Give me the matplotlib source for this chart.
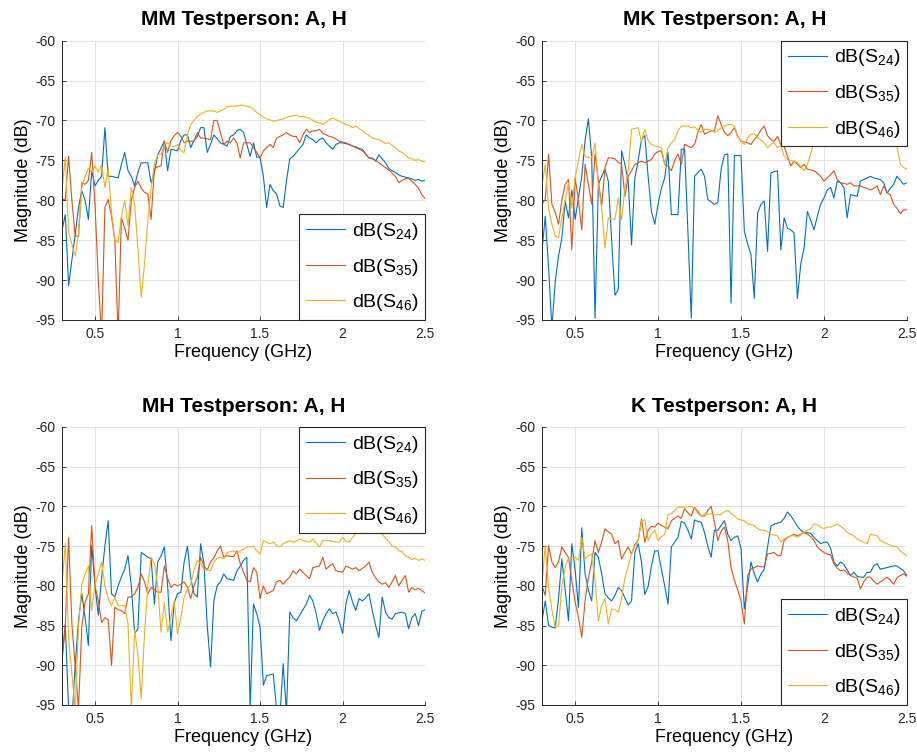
import numpy as np
import matplotlib

matplotlib.use("Agg")
import matplotlib.pyplot as plt

plt.rcParams["font.family"] = ["Liberation Sans", "DejaVu Sans"]
plt.rcParams["mathtext.default"] = "regular"
plt.rcParams["axes.unicode_minus"] = False

COLORS = ["#0072BD", "#D95319", "#EDB120"]
LABELS = [r"dB(S$_{24}$)", r"dB(S$_{35}$)", r"dB(S$_{46}$)"]

# 0.3 .. 2.5 GHz in 0.02 GHz steps (111 points)
freq = np.round(0.3 + 0.02 * np.arange(111), 2)

mm_s24 = [
    -83.8, -81.8, -90.7, -87.5, -84.3, -80.9, -78.8, -80.0, -82.4, -76.3,
    -78.2, -77.5, -77.0, -70.9, -77.0, -77.0, -77.1, -77.2, -75.5, -74.0,
    -76.3, -77.0, -78.2, -76.5, -75.3, -75.3, -75.3, -77.8, -76.5, -74.3,
    -73.5, -72.6, -76.3, -73.6, -73.7, -73.8, -72.5, -71.8, -71.8, -73.4,
    -72.5, -72.0, -70.9, -70.9, -74.0, -73.0, -71.8, -72.3, -72.8, -73.0,
    -73.2, -72.0, -71.8, -71.3, -71.1, -71.5, -73.0, -74.5, -72.8, -74.6,
    -74.6, -77.0, -80.9, -78.0, -78.8, -79.2, -80.7, -80.9, -77.6, -74.8,
    -74.5, -74.0, -73.5, -73.0, -71.8, -72.2, -72.4, -72.8, -72.4, -72.2,
    -72.8, -73.2, -73.6, -73.0, -72.8, -72.8, -72.9, -73.0, -73.2, -73.3,
    -73.5, -73.6, -74.2, -74.7, -74.7, -75.1, -74.3, -74.8, -75.3, -76.0,
    -76.3, -76.5, -76.8, -77.0, -77.1, -77.2, -77.3, -77.5, -77.4, -77.6,
    -77.5,
]
mm_s35 = [
    -79.9, -79.9, -74.5, -80.0, -84.5, -84.5, -77.8, -78.0, -77.5, -74.0,
    -80.5, -90.0, -97.0, -80.9, -79.9, -82.0, -85.0, -97.0, -82.2, -83.5,
    -85.0, -80.0, -78.4, -77.6, -78.5, -79.0, -79.2, -82.4, -76.0, -75.8,
    -75.7, -72.6, -74.0, -72.5, -71.9, -71.5, -72.0, -72.8, -72.6, -72.6,
    -72.6, -71.5, -72.2, -72.2, -72.3, -72.4, -70.0, -70.0, -71.5, -73.0,
    -72.6, -72.8, -72.2, -72.8, -74.7, -72.8, -72.8, -72.8, -73.4, -74.0,
    -74.7, -73.8, -73.4, -73.0, -73.4, -72.2, -72.0, -71.8, -71.5, -71.8,
    -72.0, -72.0, -72.8, -71.8, -71.1, -71.5, -71.3, -71.3, -71.1, -71.6,
    -71.8, -72.0, -72.1, -72.3, -72.6, -72.7, -72.8, -73.0, -73.2, -73.4,
    -73.6, -73.8, -74.2, -74.7, -74.8, -75.0, -75.3, -75.6, -75.9, -76.2,
    -76.6, -77.0, -77.8, -77.5, -77.3, -77.3, -77.6, -78.0, -78.5, -79.3,
    -79.8,
]
mm_s46 = [
    -78.8, -74.6, -84.0, -85.5, -87.0, -84.0, -78.4, -77.0, -76.0, -76.5,
    -75.7, -76.5, -75.5, -78.4, -76.0, -81.5, -84.9, -85.3, -82.0, -80.0,
    -83.2, -78.4, -80.5, -86.0, -92.2, -88.0, -82.5, -78.4, -75.5, -74.3,
    -74.3, -73.0, -72.8, -73.2, -73.3, -73.0, -73.8, -74.0, -71.8, -70.5,
    -70.0, -69.5, -69.2, -69.0, -68.8, -68.8, -68.8, -69.0, -68.8, -68.6,
    -68.3, -68.2, -68.2, -68.2, -68.1, -68.1, -68.2, -68.3, -68.6, -69.0,
    -69.25, -69.6, -69.8, -69.9, -70.1, -70.0, -69.9, -69.8, -69.6, -69.5,
    -69.4, -69.3, -69.5, -69.5, -69.6, -69.7, -70.0, -70.2, -70.3, -70.5,
    -70.2, -69.9, -69.7, -69.9, -70.1, -70.3, -70.5, -70.6, -70.9, -70.7,
    -71.0, -71.3, -71.6, -71.9, -72.2, -72.3, -72.4, -72.6, -72.9, -72.8,
    -73.1, -73.4, -73.8, -74.0, -74.3, -74.7, -74.8, -75.0, -74.9, -75.1,
    -75.2,
]

mk_s24 = [
    -86.4, -82.0, -88.5, -96.0, -90.2, -87.0, -84.7, -80.1, -82.2, -78.7,
    -82.4, -79.7, -77.0, -72.5, -69.8, -74.7, -94.8, -78.0, -77.0, -76.1,
    -77.6, -85.0, -91.9, -91.2, -73.8, -75.5, -77.6, -85.6, -77.2, -75.0,
    -72.4, -71.9, -77.0, -81.4, -83.0, -80.5, -78.5, -77.2, -74.0, -81.8,
    -81.8, -81.8, -73.6, -73.6, -84.0, -94.8, -77.0, -76.5, -76.1, -77.0,
    -79.9, -80.2, -80.5, -80.3, -76.1, -74.3, -74.2, -92.9, -74.4, -74.4,
    -74.4, -83.9, -85.5, -86.8, -92.3, -81.6, -80.5, -80.1, -86.4, -76.6,
    -76.4, -76.3, -86.2, -82.2, -83.5, -83.7, -84.1, -92.3, -88.0, -86.0,
    -81.4, -82.5, -83.7, -82.0, -80.5, -79.7, -78.7, -78.4, -79.7, -77.6,
    -77.8, -78.4, -82.2, -79.3, -79.4, -79.5, -77.6, -77.4, -77.2, -77.0,
    -77.2, -77.3, -77.4, -77.8, -79.1, -78.5, -78.0, -77.0, -77.5, -78.0,
    -77.8,
]
mk_s35 = [
    -80.5, -79.9, -74.2, -80.5, -81.5, -83.0, -80.0, -78.0, -77.4, -86.2,
    -77.2, -80.0, -83.7, -75.5, -78.0, -80.5, -74.2, -77.5, -80.7, -75.9,
    -74.7, -74.7, -74.8, -75.3, -75.4, -79.5, -77.0, -76.3, -75.5, -75.3,
    -75.1, -75.3, -75.1, -74.9, -74.2, -73.9, -73.8, -75.5, -75.7, -76.3,
    -75.0, -74.2, -75.5, -73.0, -73.2, -73.4, -73.0, -71.5, -70.5, -71.7,
    -71.5, -71.3, -71.3, -69.4, -70.5, -71.5, -71.9, -71.5, -70.9, -72.0,
    -72.6, -72.7, -72.8, -73.0, -72.4, -71.9, -71.2, -70.7, -71.9, -72.4,
    -72.6, -72.0, -73.0, -73.2, -74.5, -75.7, -75.1, -75.5, -75.9, -75.5,
    -76.1, -76.2, -76.3, -76.6, -77.0, -77.6, -77.2, -76.8, -76.3, -77.4,
    -77.8, -77.9, -78.0, -77.8, -78.2, -78.2, -78.2, -78.4, -78.5, -78.7,
    -78.5, -78.2, -79.3, -78.2, -79.0, -79.3, -80.5, -81.0, -81.7, -81.2,
    -81.2,
]
mk_s46 = [
    -78.2, -75.5, -81.0, -83.0, -84.5, -84.7, -82.2, -80.0, -77.8, -81.0,
    -77.2, -75.0, -73.0, -74.5, -74.6, -74.7, -72.8, -78.0, -81.0, -86.0,
    -82.2, -82.3, -82.4, -79.7, -82.4, -78.5, -76.3, -71.1, -71.0, -70.9,
    -72.6, -71.1, -72.5, -73.0, -73.2, -73.3, -73.4, -75.5, -73.4, -72.8,
    -72.4, -71.3, -70.7, -70.7, -70.7, -70.9, -70.8, -71.2, -71.5, -71.1,
    -71.1, -71.2, -71.5, -71.3, -70.9, -70.7, -70.5, -70.5, -70.7, -72.0,
    -72.6, -73.0, -72.2, -71.7, -71.7, -72.1, -72.5, -72.8, -73.4, -73.0,
    -72.8, -73.4, -73.2, -74.5, -74.9, -75.0, -75.1, -75.3, -75.8, -76.3,
    -75.5, -74.2, -72.6, -70.5, -69.5, -69.8, -70.2, -70.0, -70.4, -70.6,
    -70.3, -70.8, -71.0, -70.7, -71.2, -71.0, -71.4, -71.2, -71.5, -71.8,
    -71.6, -72.0, -72.2, -72.0, -72.5, -72.8, -72.9, -73.2, -75.5, -75.9,
    -76.1,
]

mh_s24 = [
    -89.0, -84.8, -95.5, -97.0, -90.0, -84.4, -81.0, -84.0, -87.5, -74.9,
    -80.0, -83.7, -78.9, -75.0, -71.8, -81.0, -81.4, -80.0, -78.9, -77.9,
    -76.2, -80.0, -86.0, -85.4, -75.8, -76.1, -76.4, -76.6, -82.3, -77.0,
    -76.2, -75.1, -80.0, -86.9, -82.1, -81.0, -80.8, -77.0, -75.0, -79.0,
    -81.0, -81.4, -74.7, -77.2, -85.0, -90.2, -81.9, -80.0, -79.5, -78.5,
    -79.1, -79.2, -79.3, -78.1, -77.5, -76.8, -76.4, -95.5, -82.3, -83.5,
    -85.2, -92.5, -91.3, -91.2, -91.1, -95.5, -96.5, -89.8, -96.0, -83.3,
    -84.0, -84.4, -83.7, -83.0, -82.3, -81.2, -81.9, -83.5, -85.6, -84.4,
    -83.5, -82.9, -83.5, -83.3, -84.5, -86.0, -82.3, -80.6, -82.0, -83.1,
    -81.6, -81.9, -81.5, -81.0, -83.1, -85.0, -86.5, -81.4, -83.3, -84.0,
    -84.2, -83.5, -83.4, -83.3, -83.5, -85.4, -84.0, -83.5, -85.0, -83.2,
    -83.0,
]
mh_s35 = [
    -89.6, -85.0, -73.9, -84.8, -90.0, -95.5, -85.2, -82.0, -81.0, -72.4,
    -80.0, -81.9, -84.6, -84.0, -84.3, -90.0, -82.7, -83.0, -83.1, -83.5,
    -81.4, -81.4, -81.0, -80.2, -78.5, -79.5, -81.0, -80.2, -80.5, -80.8,
    -80.8, -77.5, -79.0, -80.2, -79.8, -80.0, -79.8, -79.5, -80.2, -81.6,
    -80.0, -78.9, -76.4, -77.5, -78.0, -77.0, -76.5, -75.6, -75.0, -76.4,
    -76.2, -76.3, -76.3, -75.6, -77.2, -78.3, -79.3, -79.5, -77.7, -78.3,
    -81.6, -80.0, -81.0, -80.8, -80.6, -79.5, -79.3, -79.8, -79.3, -78.9,
    -78.1, -78.5, -77.9, -78.3, -78.7, -79.1, -77.7, -77.6, -77.5, -76.4,
    -77.9, -77.5, -77.2, -78.1, -78.2, -78.3, -77.5, -77.7, -77.9, -77.7,
    -78.1, -77.8, -77.5, -77.0, -78.3, -79.0, -79.5, -79.8, -79.6, -80.2,
    -79.5, -78.7, -80.0, -79.3, -78.7, -80.8, -80.2, -80.5, -80.3, -80.6,
    -80.9,
]
mh_s46 = [
    -79.8, -74.7, -86.5, -91.1, -95.5, -85.2, -79.8, -78.5, -77.5, -83.1,
    -79.8, -78.5, -77.0, -80.0, -81.6, -82.5, -81.4, -82.5, -82.5, -82.5,
    -84.8, -95.5, -85.6, -88.6, -94.2, -86.0, -80.0, -76.4, -77.2, -80.0,
    -85.8, -82.1, -85.8, -84.0, -81.9, -86.0, -84.0, -81.4, -80.4, -79.8,
    -78.0, -76.8, -77.2, -77.9, -78.0, -78.1, -77.0, -76.5, -76.4, -76.6,
    -75.8, -75.7, -75.6, -75.9, -75.6, -75.4, -75.1, -75.1, -75.0, -75.6,
    -76.0, -74.3, -74.5, -74.7, -74.5, -74.9, -75.1, -74.7, -74.5, -74.3,
    -74.5, -74.4, -74.1, -74.3, -74.4, -74.5, -74.1, -74.6, -75.1, -74.3,
    -74.3, -74.3, -74.4, -74.5, -74.5, -73.9, -74.4, -74.5, -73.9, -73.4,
    -73.0, -73.2, -72.9, -73.1, -73.0, -73.3, -73.2, -73.5, -74.0, -74.4,
    -75.0, -75.1, -75.6, -75.7, -76.2, -76.4, -76.7, -76.5, -76.8, -76.6,
    -76.8,
]

k_s24 = [
    -84.4, -81.9, -85.0, -85.2, -85.3, -81.6, -76.6, -80.5, -84.4, -74.7,
    -78.0, -82.7, -72.7, -78.5, -80.5, -81.9, -75.8, -76.4, -78.5, -81.0,
    -81.5, -81.9, -81.2, -80.2, -80.6, -81.5, -82.4, -81.9, -75.8, -74.7,
    -77.0, -81.1, -80.1, -77.5, -75.6, -75.6, -77.9, -80.0, -82.3, -75.1,
    -74.5, -73.9, -71.9, -72.1, -73.0, -74.1, -71.7, -71.9, -72.0, -73.3,
    -75.0, -76.4, -73.0, -73.0, -72.4, -71.8, -73.5, -74.3, -73.9, -73.7,
    -75.3, -82.9, -80.0, -77.0, -78.5, -79.5, -78.5, -77.9, -75.1, -72.5,
    -72.2, -72.1, -72.0, -71.5, -70.7, -71.2, -71.8, -72.5, -73.0, -73.3,
    -73.3, -73.4, -73.9, -74.3, -74.7, -74.5, -74.5, -75.3, -77.0, -77.5,
    -77.0, -77.3, -78.0, -78.7, -78.3, -78.8, -78.9, -78.9, -78.3, -78.3,
    -77.5, -77.2, -77.9, -77.8, -77.7, -77.6, -77.5, -77.5, -77.8, -78.1,
    -78.7,
]
k_s35 = [
    -80.0, -81.2, -74.9, -77.0, -77.7, -77.0, -75.1, -75.8, -76.4, -79.3,
    -82.0, -84.0, -86.5, -81.9, -79.0, -77.0, -74.3, -75.8, -74.5, -72.8,
    -73.2, -73.5, -74.7, -74.3, -76.6, -75.8, -75.1, -76.0, -74.8, -74.3,
    -71.6, -74.5, -73.0, -72.5, -72.6, -72.1, -72.4, -72.6, -72.8, -71.8,
    -71.5, -71.2, -71.5, -70.3, -70.8, -71.2, -70.1, -70.8, -71.2, -71.2,
    -70.5, -70.0, -72.0, -74.3, -73.1, -72.6, -74.3, -77.7, -79.3, -80.5,
    -81.9, -84.8, -78.7, -77.9, -77.7, -77.5, -77.6, -77.6, -76.0, -75.9,
    -75.8, -76.2, -76.2, -74.3, -73.9, -73.7, -73.5, -73.7, -73.5, -73.3,
    -73.5, -73.8, -74.3, -75.1, -75.5, -75.8, -76.0, -76.1, -77.2, -77.8,
    -78.1, -78.0, -78.4, -78.7, -78.9, -79.0, -80.4, -79.5, -78.9, -78.9,
    -79.4, -79.8, -79.5, -79.2, -78.9, -79.3, -79.8, -79.0, -78.7, -78.5,
    -78.8,
]
k_s46 = [
    -79.8, -74.9, -80.2, -83.0, -85.2, -85.0, -80.0, -77.7, -76.4, -76.5,
    -76.4, -76.8, -73.9, -76.6, -76.2, -76.0, -79.3, -84.4, -82.5, -81.6,
    -84.8, -82.9, -83.0, -83.3, -81.6, -79.0, -77.5, -76.0, -75.0, -74.3,
    -71.8, -71.7, -74.3, -73.5, -73.0, -74.3, -73.8, -73.5, -71.0, -70.9,
    -70.5, -70.1, -70.1, -70.1, -70.0, -70.0, -70.3, -70.5, -71.2, -71.0,
    -71.0, -70.9, -71.1, -71.0, -71.0, -70.7, -70.5, -70.9, -71.2, -71.6,
    -71.7, -71.8, -72.2, -72.3, -72.4, -72.8, -73.0, -73.0, -73.2, -73.5,
    -73.6, -73.7, -74.5, -74.1, -73.9, -73.7, -73.7, -73.9, -73.6, -73.3,
    -73.0, -72.8, -72.2, -72.3, -72.6, -72.8, -72.6, -72.6, -72.4, -72.2,
    -72.5, -72.8, -73.3, -73.5, -73.7, -74.1, -74.3, -74.5, -74.7, -73.5,
    -73.6, -73.7, -74.3, -74.5, -74.7, -74.9, -75.0, -75.1, -75.6, -75.9,
    -76.2,
]

titles = ["MM Testperson: A, H", "MK Testperson: A, H",
          "MH Testperson: A, H", "K Testperson: A, H"]
panels = [
    (mm_s24, mm_s35, mm_s46),
    (mk_s24, mk_s35, mk_s46),
    (mh_s24, mh_s35, mh_s46),
    (k_s24, k_s35, k_s46),
]
legend_locs = ["lower right", "upper right", "upper right", "lower right"]

# axes boxes in figure fractions: [left, bottom, width, height]
boxes = [
    [0.0676, 0.5745, 0.396, 0.3714],
    [0.591, 0.5745, 0.398, 0.3714],
    [0.0676, 0.0625, 0.396, 0.3697],
    [0.591, 0.0625, 0.398, 0.3697],
]

AX_COLOR = "#262626"

fig = plt.figure(figsize=(9.17, 7.52), dpi=100)

for box, title, series, loc in zip(boxes, titles, panels, legend_locs):
    ax = fig.add_axes(box)
    for vals, color, label in zip(series, COLORS, LABELS):
        ax.plot(freq, vals, color=color, linewidth=0.8, label=label)
    ax.set_xlim(0.3, 2.5)
    ax.set_ylim(-95, -60)
    ax.set_xticks([0.5, 1, 1.5, 2, 2.5])
    ax.set_xticklabels(["0.5", "1", "1.5", "2", "2.5"])
    ax.set_yticks(np.arange(-95, -59, 5))
    ax.grid(True, color="#dedede", linewidth=0.6)
    ax.set_axisbelow(True)
    for side in ("top", "right"):
        ax.spines[side].set_visible(False)
    for side in ("left", "bottom"):
        ax.spines[side].set_color(AX_COLOR)
        ax.spines[side].set_linewidth(0.7)
    ax.tick_params(direction="in", length=3, width=0.6, colors=AX_COLOR,
                   labelsize=10, pad=5)
    ax.set_title(title, fontsize=15, fontweight="bold", pad=11)
    ax.set_xlabel("Frequency (GHz)", fontsize=13, labelpad=2)
    ax.set_ylabel("Magnitude (dB)", fontsize=13, labelpad=2)
    leg = ax.legend(loc=loc, fontsize=14, handlelength=2.0,
                    handletextpad=0.35, borderpad=0.35, labelspacing=0.75,
                    borderaxespad=0.0, fancybox=False, framealpha=1,
                    edgecolor=AX_COLOR)
    leg.get_frame().set_linewidth(0.8)

fig.savefig("out.png", dpi=100)
